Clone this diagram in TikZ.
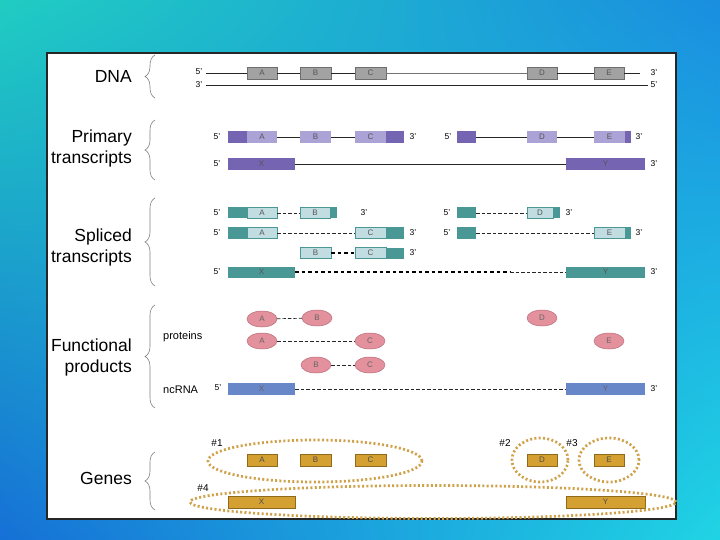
\documentclass[tikz,border=0pt]{standalone}
\usepackage{fontspec}
\setmainfont{Liberation Sans}
\usetikzlibrary{shapes.geometric,decorations.pathreplacing,shadings}
\definecolor{bgA}{HTML}{20CDC2}
\definecolor{bgB}{HTML}{1A8EE0}
\definecolor{bgC}{HTML}{1670D6}
\definecolor{bgD}{HTML}{20D4E4}
\definecolor{grayF}{HTML}{A2A2A2}
\definecolor{grayD}{HTML}{6E6E6E}
\definecolor{purD}{HTML}{7464B2}
\definecolor{purL}{HTML}{ABA2D6}
\definecolor{tealD}{HTML}{4A9896}
\definecolor{tealL}{HTML}{C2DDE2}
\definecolor{pinkF}{HTML}{E3919C}
\definecolor{pinkD}{HTML}{B96B79}
\definecolor{blueF}{HTML}{6787C8}
\definecolor{goldF}{HTML}{D4A032}
\definecolor{goldD}{HTML}{8F6A1C}
\definecolor{goldR}{HTML}{CFA24A}
\definecolor{txtG}{HTML}{555555}
\newcommand\bxn[6]{\node[#1,minimum width={(#4-#3)*1pt}] (#2) at ({(#3+#4)/2},#5) {#6};}
\tikzset{
  lab/.style={font=\fontsize{17.5}{21}\selectfont, align=right, anchor=east, inner sep=0pt},
  sublab/.style={font=\fontsize{11}{13}\selectfont, anchor=west, inner sep=0pt},
  prime/.style={font=\fontsize{8.5}{9}\selectfont, inner sep=0pt},
  hashlab/.style={font=\fontsize{10}{11}\selectfont, inner sep=0pt},
  boxbase/.style={rectangle, inner sep=0pt, outer sep=0pt, minimum height=12pt, font=\fontsize{8}{9}\selectfont, text=txtG},
  gbox/.style={boxbase, fill=grayF, draw=grayD, line width=0.5pt},
  pdk/.style={boxbase, fill=purD},
  plt/.style={boxbase, fill=purL},
  tdk/.style={boxbase, fill=tealD, minimum height=11pt},
  tlt/.style={boxbase, fill=tealL, draw=tealD, line width=0.4pt, minimum height=11pt},
  ncb/.style={boxbase, fill=blueF, text=black!60},
  gld/.style={boxbase, fill=goldF, draw=goldD, line width=0.5pt, text=black!70},
  pro/.style={ellipse, inner sep=0pt, outer sep=0pt, minimum width=30pt, minimum height=16pt, fill=pinkF, draw=pinkD, line width=0.5pt, font=\fontsize{8}{9}\selectfont, text=black!60},
  ln/.style={draw=black!85, line width=0.6pt},
  dsh/.style={draw=black!85, line width=0.7pt, dash pattern=on 3.5pt off 2pt},
  dshk/.style={draw=black, line width=1.3pt, dash pattern=on 3.5pt off 3pt},
  brc/.style={draw=black!50, line width=0.6pt, decorate, decoration={brace, amplitude=10pt}},
  ring/.style={ellipse, draw=goldR, line width=2.7pt, dash pattern=on 2pt off 2.3pt, inner sep=0pt}
}
\begin{document}
\begin{tikzpicture}[x=1pt,y=-1pt]
\useasboundingbox (0,0) rectangle (720,540);
\shade[upper left=bgA, upper right=bgB, lower left=bgC, lower right=bgD] (0,0) rectangle (720,540);
\draw[fill=white, draw=black!85, line width=1.3pt] (47,53) rectangle (676,519);

% left labels and braces
\node[lab] (lDNA) at (132,76) {DNA};
\node[lab] (lPri) at (132,148) {Primary\\transcripts};
\node[lab] (lSpl) at (132,247) {Spliced\\transcripts};
\node[lab] (lFun) at (132,357) {Functional\\products};
\node[lab] (lGen) at (132,478) {Genes};
\draw[brc] (155,98) -- (155,55);
\draw[brc] (155,180) -- (155,120);
\draw[brc] (155,286) -- (155,198);
\draw[brc] (155,408) -- (155,305);
\draw[brc] (155,510) -- (155,452);

% DNA
\bxn{gbox}{dA}{247}{277}{73}{A}
\bxn{gbox}{dB}{300}{331}{73}{B}
\bxn{gbox}{dC}{355}{386}{73}{C}
\bxn{gbox}{dD}{527}{557}{73}{D}
\bxn{gbox}{dE}{594}{624}{73}{E}
\coordinate (d5) at (206,73);
\coordinate (d3) at (640,73);
\coordinate (b3) at (206,85);
\coordinate (b5) at (648,85);
\draw[ln] (d5) -- (dA) -- (dB) -- (dC);
\draw[draw=black!55, line width=0.6pt] (dC) -- (dD);
\draw[ln] (dD) -- (dE) -- (d3);
\draw[ln] (b3) -- (b5);
\node[prime] (t1) at (199,72) {5'};
\node[prime] (t2) at (199,85) {3'};
\node[prime] (t3) at (654,73) {3'};
\node[prime] (t4) at (654,85) {5'};

% Primary transcripts
\bxn{pdk}{p1a}{228}{247}{137}{}
\bxn{plt}{pA}{247}{277}{137}{A}
\bxn{plt}{pB}{300}{331}{137}{B}
\bxn{plt}{pC}{355}{386}{137}{C}
\bxn{pdk}{p1c}{386}{404}{137}{}
\bxn{pdk}{p2a}{457}{476}{137}{}
\bxn{plt}{pD}{527}{557}{137}{D}
\bxn{plt}{pE}{594}{625}{137}{E}
\bxn{pdk}{p2e}{625}{631}{137}{}
\bxn{pdk}{pX}{228}{295}{164}{X}
\bxn{pdk}{pY}{566}{645}{164}{Y}
\draw[ln] (pA) -- (pB) -- (pC);
\draw[ln] (p2a) -- (pD) -- (pE);
\draw[ln] (pX) -- (pY);
\node[prime] (t5) at (217,137) {5'};
\node[prime] (t6) at (413,137) {3'};
\node[prime] (t7) at (448,137) {5'};
\node[prime] (t8) at (639,137) {3'};
\node[prime] (t9) at (217,164) {5'};
\node[prime] (t10) at (654,164) {3'};

% Spliced transcripts
\bxn{tdk}{s1a}{228}{247}{213}{}
\bxn{tlt}{sA1}{247}{277}{213}{A}
\bxn{tlt}{sB1}{300}{330}{213}{B}
\bxn{tdk}{s1b}{330}{337}{213}{}
\bxn{tdk}{s3a}{457}{476}{213}{}
\bxn{tlt}{sD}{527}{553}{213}{D}
\bxn{tdk}{s3d}{553}{560}{213}{}
\bxn{tdk}{s2a}{228}{247}{233}{}
\bxn{tlt}{sA2}{247}{277}{233}{A}
\bxn{tlt}{sC2}{355}{386}{233}{C}
\bxn{tdk}{s2c}{386}{404}{233}{}
\bxn{tdk}{s4a}{457}{476}{233}{}
\bxn{tlt}{sE}{594}{625}{233}{E}
\bxn{tdk}{s4e}{625}{631}{233}{}
\bxn{tlt}{sB3}{300}{331}{253}{B}
\bxn{tlt}{sC3}{355}{386}{253}{C}
\bxn{tdk}{s3c}{386}{404}{253}{}
\bxn{tdk}{sX}{228}{295}{272}{X}
\bxn{tdk}{sY}{566}{645}{272}{Y}
\coordinate (sm) at (510,272);
\draw[dsh] (sA1) -- (sB1);
\draw[dsh] (s3a) -- (sD);
\draw[dsh] (sA2) -- (sC2);
\draw[dsh] (s4a) -- (sE);
\draw[dshk] (sB3) -- (sC3);
\draw[dshk] (sX) -- (sm);
\draw[dsh] (sm) -- (sY);
\node[prime] (t11) at (217,213) {5'};
\node[prime] (t12) at (364,213) {3'};
\node[prime] (t13) at (447,213) {5'};
\node[prime] (t14) at (569,213) {3'};
\node[prime] (t15) at (217,233) {5'};
\node[prime] (t16) at (413,233) {3'};
\node[prime] (t17) at (447,233) {5'};
\node[prime] (t18) at (639,233) {3'};
\node[prime] (t19) at (413,253) {3'};
\node[prime] (t20) at (217,272) {5'};
\node[prime] (t21) at (654,272) {3'};

% Functional products
\node[sublab] (lprot) at (163,337) {proteins};
\node[sublab] (lnc) at (163,390) {ncRNA};
\node[pro] (fA1) at (262,319) {A};
\node[pro] (fB1) at (317,318) {B};
\node[pro] (fA2) at (262,341) {A};
\node[pro] (fC2) at (370,341) {C};
\node[pro] (fB3) at (316,365) {B};
\node[pro] (fC3) at (370,365) {C};
\node[pro] (fD) at (542,318) {D};
\node[pro] (fE) at (609,341) {E};
\draw[dsh] (fA1) -- (fB1);
\draw[dsh] (fA2) -- (fC2);
\draw[dsh] (fB3) -- (fC3);
\bxn{ncb}{nX}{228}{295}{389}{X}
\bxn{ncb}{nY}{566}{645}{389}{Y}
\draw[dsh] (nX) -- (nY);
\node[prime] (t22) at (218,388) {5'};
\node[prime] (t23) at (654,389) {3'};

% Genes
\bxn{gld}{gA}{247}{277}{460}{A}
\bxn{gld}{gB}{300}{331}{460}{B}
\bxn{gld}{gC}{355}{386}{460}{C}
\bxn{gld}{gD}{527}{557}{460}{D}
\bxn{gld}{gE}{594}{624}{460}{E}
\bxn{gld}{gX}{228}{295}{502}{X}
\bxn{gld}{gY}{566}{645}{502}{Y}
\node[ring, minimum width=214pt, minimum height=42pt] (r1) at (315,461) {};
\node[ring, minimum width=56pt, minimum height=44pt] (r2) at (540,460) {};
\node[ring, minimum width=60pt, minimum height=44pt] (r3) at (609,460) {};
\node[ring, minimum width=486pt, minimum height=33pt] (r4) at (433,502) {};
\node[hashlab] (h1) at (217,443) {\#1};
\node[hashlab] (h2) at (505,443) {\#2};
\node[hashlab] (h3) at (572,443) {\#3};
\node[hashlab] (h4) at (203,488) {\#4};
\end{tikzpicture}
\end{document}
